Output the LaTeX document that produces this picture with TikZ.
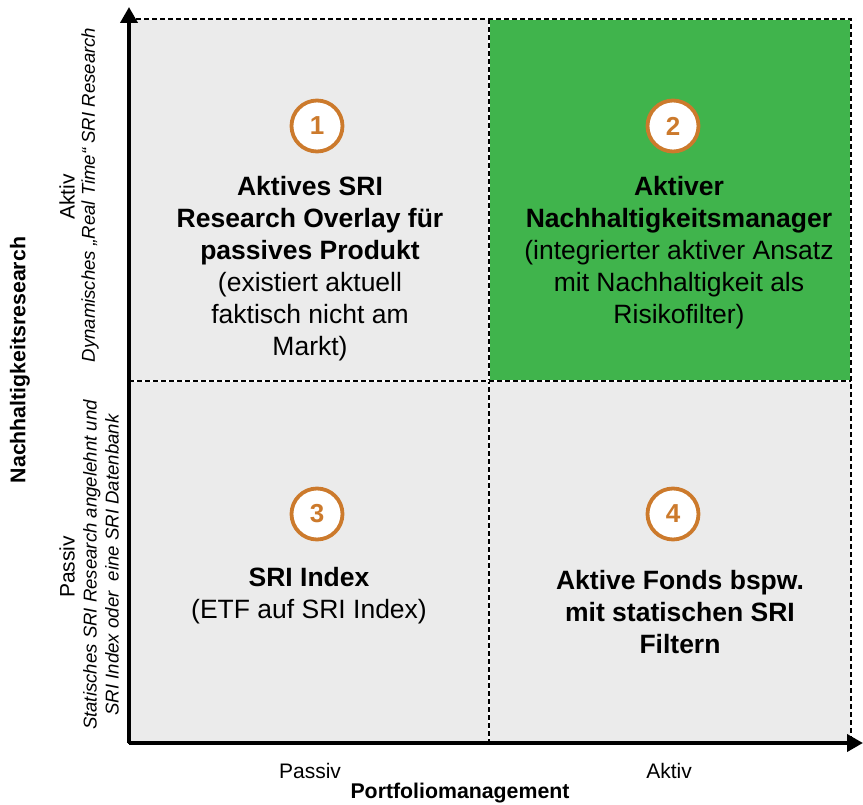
\documentclass[tikz,border=0pt]{standalone}
\usepackage{fontspec}
\setmainfont{Liberation Sans}
\usetikzlibrary{positioning,arrows.meta}

\definecolor{srigreen}{RGB}{64,180,76}
\definecolor{cellgray}{RGB}{235,235,235}
\definecolor{numorange}{RGB}{204,122,44}

\begin{document}
\begin{tikzpicture}[x=1pt,y=-1pt,
	cell/.style={draw=black,line width=1.4pt,dash pattern=on 5pt off 3pt,preaction={draw=white,solid,line width=1.4pt}},
	numring/.style={circle,draw=numorange,line width=3.8pt,fill=white,minimum size=51pt,inner sep=0pt,text=numorange,font=\fontsize{26}{30}\selectfont\bfseries},
	celltext/.style={align=center,font=\fontsize{26.5}{32}\selectfont},
	axislabel/.style={font=\fontsize{21.3}{24}\selectfont\bfseries},
	levellabel/.style={font=\fontsize{21}{24}\selectfont},
	hintlabel/.style={align=center,font=\fontsize{18.6}{22}\selectfont\itshape},
	axis/.style={line width=3.8pt,-{Triangle[length=16pt,width=17pt]}}]
	
	\useasboundingbox (0,0) rectangle (863,805);
	
	\coordinate (origin) at (129,743);
	\coordinate (y-end) at (129,7);
	\coordinate (x-end) at (863,743);
	
	%%%%%%%%%%%%%%%%%%%%%%%%%%%%%%%%%%%%%%%%%%%%%%%%%%%%%%
	
	\fill [cellgray] (129,19) rectangle (489,381);
	\fill [srigreen] (489,19) rectangle (851,381);
	\fill [cellgray] (129,381) rectangle (489,743);
	\fill [cellgray] (489,381) rectangle (851,743);
	\draw [cell] (129,19) rectangle (851,743);
	\draw [cell] (489,19) -- (489,743);
	\draw [cell] (129,381) -- (851,381);
	
	\draw [axis] (origin) -- (y-end);
	\draw [axis] (origin) -- (x-end);
	
	%%%%%%%%%%%%%%%%%%%%%%%%%%%%%%%%%%%%%%%%%%%%%%%%%%%%%%
	
	\node [numring] (num-1) at (317,126) {1};
	\node [numring] (num-2) at (673,126) {2};
	\node [numring] (num-3) at (317,514) {3};
	\node [numring] (num-4) at (673,514) {4};
	
	\node [celltext] (overlay-text) at (310,269) {\textbf{Aktives SRI}\\\textbf{Research Overlay für}\\\textbf{passives Produkt}\\(existiert aktuell\\faktisch nicht am\\Markt)};
	\node [celltext] (manager-text) at (679,253) {\textbf{Aktiver}\\\textbf{Nachhaltigkeitsmanager}\\(integrierter aktiver Ansatz\\mit Nachhaltigkeit als\\Risikofilter)};
	\node [celltext] (index-text) at (309,596) {\textbf{SRI Index}\\(ETF auf SRI Index)};
	\node [celltext] (fonds-text) at (680,612) {\textbf{Aktive Fonds bspw.}\\\textbf{mit statischen SRI}\\\textbf{Filtern}};
	
	%%%%%%%%%%%%%%%%%%%%%%%%%%%%%%%%%%%%%%%%%%%%%%%%%%%%%%
	
	\node [axislabel,rotate=90] (research-label) at (20,360) {Nachhaltigkeitsresearch};
	\node [levellabel,rotate=90] (research-aktiv) at (67,197) {Aktiv};
	\node [hintlabel,rotate=90] (research-aktiv-hint) at (90,195) {Dynamisches „Real Time“ SRI Research};
	\node [levellabel,rotate=90] (research-passiv) at (67,567) {Passiv};
	\node [hintlabel,rotate=90] (research-passiv-hint) at (101,565) {Statisches SRI Research angelehnt und\\SRI Index oder\ \ eine SRI Datenbank};
	
	\node [levellabel] (pm-passiv) at (310,771) {Passiv};
	\node [levellabel] (pm-aktiv) at (669,771) {Aktiv};
	\node [axislabel] (pm-label) at (460,793) {Portfoliomanagement};
	
\end{tikzpicture}
\end{document}
